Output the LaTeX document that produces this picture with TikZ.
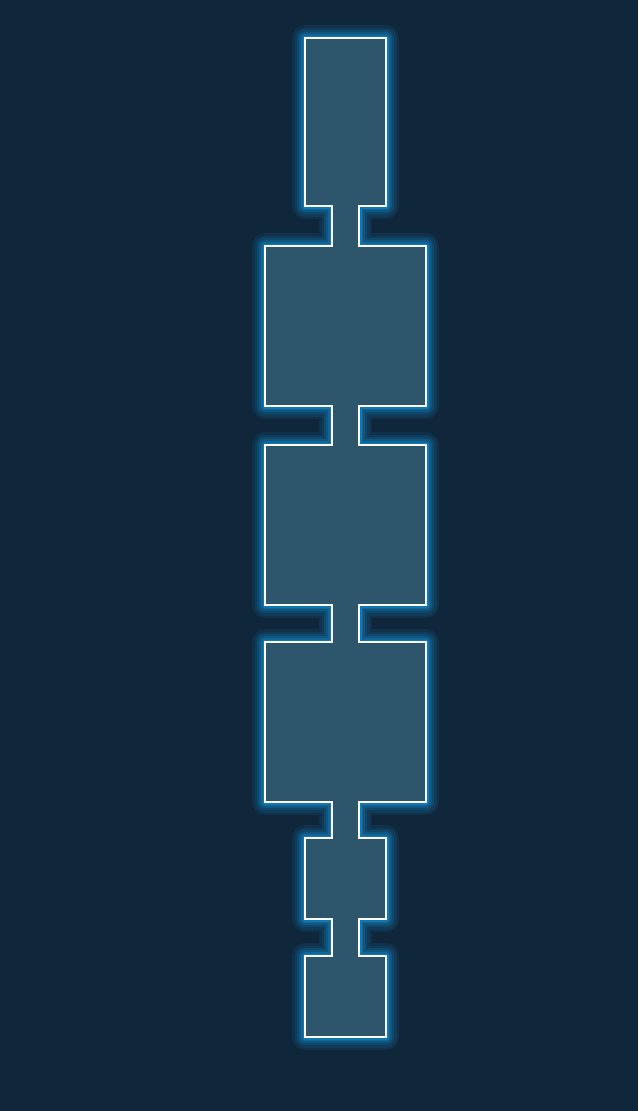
\documentclass[tikz,border=0pt]{standalone}
\definecolor{bgnavy}{HTML}{10263A}
\definecolor{tubefill}{HTML}{2D566D}
\definecolor{glowblue}{HTML}{1292D6}
\def\tubeoutline{(305,38) -- (386,38) -- (386,206) -- (359,206) -- (359,246) -- (426,246) -- (426,406) -- (359,406) -- (359,445) -- (426,445) -- (426,605) -- (359,605) -- (359,642) -- (426,642) -- (426,802) -- (359,802) -- (359,838) -- (386,838) -- (386,919) -- (359,919) -- (359,956) -- (386,956) -- (386,1037) -- (305,1037) -- (305,956) -- (332,956) -- (332,919) -- (305,919) -- (305,838) -- (332,838) -- (332,802) -- (265,802) -- (265,642) -- (332,642) -- (332,605) -- (265,605) -- (265,445) -- (332,445) -- (332,406) -- (265,406) -- (265,246) -- (332,246) -- (332,206) -- (305,206) -- cycle}
\begin{document}
\begin{tikzpicture}[x=1pt,y=-1pt]
\fill[bgnavy] (0,0) rectangle (638,1111);
\useasboundingbox (0,0) rectangle (638,1111);
% glow
\foreach \w/\op in {26/0.1,21/0.12,16/0.15,12/0.2,8/0.28,5/0.4} {
  \draw[glowblue, line width=\w pt, opacity=\op, line join=round] \tubeoutline;
}
\fill[tubefill] \tubeoutline;
\draw[white, line width=2.6pt, line join=miter] \tubeoutline;
\end{tikzpicture}
\end{document}
